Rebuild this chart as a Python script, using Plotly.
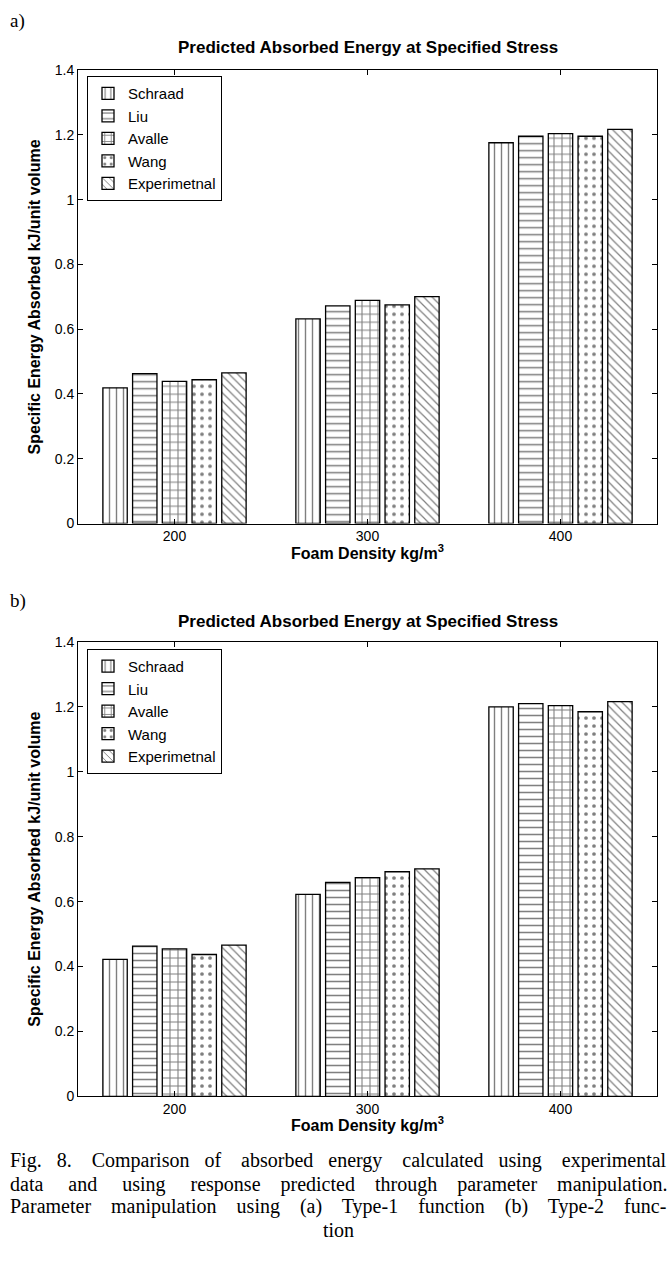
import plotly.graph_objects as go

densities = ["200", "300", "400"]
series_names = ["Schraad", "Liu", "Avalle", "Wang", "Experimetnal"]

# panel a) Type-1 function
a_schraad = [0.419, 0.632, 1.176]
a_liu = [0.463, 0.672, 1.196]
a_avalle = [0.439, 0.689, 1.204]
a_wang = [0.444, 0.675, 1.196]
a_exp = [0.465, 0.701, 1.217]

# panel b) Type-2 function
b_schraad = [0.422, 0.622, 1.200]
b_liu = [0.463, 0.659, 1.210]
b_avalle = [0.454, 0.674, 1.204]
b_wang = [0.437, 0.692, 1.185]
b_exp = [0.466, 0.701, 1.216]

y_ticks = [0, 0.2, 0.4, 0.6, 0.8, 1, 1.2, 1.4]
y_tick_text = ["0", "0.2", "0.4", "0.6", "0.8", "1", "1.2", "1.4"]

title_text = "Predicted Absorbed Energy at Specified Stress"
xlabel = "Foam Density kg/m<sup>3</sup>"
ylabel = "Specific Energy Absorbed kJ/unit volume"
caption_lines = [
    "Fig.   8.    Comparison   of    absorbed   energy    calculated   using    experimental",
    "data     and     using     response    predicted    through    parameter    manipulation.",
    "Parameter    manipulation    using    (a)    Type-1    function    (b)    Type-2    func-",
    "tion",
]

patterns = ["|", "-", "+", ".", "\\"]
pat_sizes = [7, 7, 8, 8, 6]
pat_solid = [0.2, 0.22, 0.25, 0.17, 0.2]

W, H = 672, 1286
SANS = "Liberation Sans, Arial, Helvetica"
SERIF = "Liberation Serif, Times New Roman, serif"
BOLD = dict(family=SANS, size=16, color="black", weight="bold")

fig = go.Figure()

panels = [
    ([a_schraad, a_liu, a_avalle, a_wang, a_exp], "x", "y", "legend"),
    ([b_schraad, b_liu, b_avalle, b_wang, b_exp], "x2", "y2", "legend2"),
]

for vals_list, xa, ya, lg in panels:
    for i, (name, vals) in enumerate(zip(series_names, vals_list)):
        fig.add_trace(go.Bar(
            x=densities, y=vals, name=name, xaxis=xa, yaxis=ya, legend=lg,
            marker=dict(
                color="white",
                line=dict(color="black", width=1.3),
                pattern=dict(shape=patterns[i], fgcolor="black", bgcolor="white",
                             size=pat_sizes[i], solidity=pat_solid[i]),
            ),
        ))

x0, x1 = 78 / W, 657 / W
dom_a = [1 - 522 / H, 1 - 63 / H]
dom_b = [1 - 1102 / H, 1 - 642 / H]

axis_common = dict(
    showline=True, linecolor="black", linewidth=1, mirror="ticks",
    ticks="inside", ticklen=5, tickcolor="black", showgrid=False, zeroline=False,
    tickfont=dict(family=SANS, size=14, color="black"),
)

fig.update_layout(
    width=W, height=H,
    margin=dict(l=0, r=0, t=0, b=0),
    paper_bgcolor="white", plot_bgcolor="white",
    barmode="group", bargap=0.23, bargroupgap=0.18,
    xaxis=dict(domain=[x0, x1], anchor="y", ticklabelstandoff=0, **axis_common),
    yaxis=dict(domain=dom_a, anchor="x", range=[0, 1.4], tickvals=y_ticks, ticktext=y_tick_text,
               **axis_common,
               title=dict(text=ylabel, font=BOLD, standoff=10)),
    xaxis2=dict(domain=[x0, x1], anchor="y2", ticklabelstandoff=0, **axis_common),
    yaxis2=dict(domain=dom_b, anchor="x2", range=[0, 1.4], tickvals=y_ticks, ticktext=y_tick_text,
                **axis_common,
                title=dict(text=ylabel, font=BOLD, standoff=10)),
    legend=dict(x=87 / W, y=1 - 69 / H, xanchor="left", yanchor="top",
                bgcolor="white", bordercolor="black", borderwidth=1,
                font=dict(family=SANS, size=15, color="black"), tracegroupgap=0),
    legend2=dict(x=87 / W, y=1 - 649 / H, xanchor="left", yanchor="top",
                 bgcolor="white", bordercolor="black", borderwidth=1,
                 font=dict(family=SANS, size=15, color="black"), tracegroupgap=0),
    showlegend=True,
)

xc = (x0 + x1) / 2
annotations = [
    dict(text=title_text, x=xc, y=1 - 40 / H, xref="paper", yref="paper",
         showarrow=False, font=dict(family=SANS, size=17, color="black", weight="bold"),
         xanchor="center", yanchor="middle"),
    dict(text=title_text, x=xc, y=1 - 621 / H, xref="paper", yref="paper",
         showarrow=False, font=dict(family=SANS, size=17, color="black", weight="bold"),
         xanchor="center", yanchor="middle"),
    dict(text=xlabel, x=xc, y=1 - 551 / H, xref="paper", yref="paper",
         showarrow=False, font=BOLD, xanchor="center", yanchor="middle"),
    dict(text=xlabel, x=xc, y=1 - 1130 / H, xref="paper", yref="paper",
         showarrow=False, font=BOLD, xanchor="center", yanchor="middle"),
    dict(text="a)", x=8 / W, y=1.0, xref="paper", yref="paper", showarrow=False,
         font=dict(family=SERIF, size=19, color="black"), xanchor="left", yanchor="top"),
    dict(text="b)", x=8 / W, y=1 - 600 / H, xref="paper", yref="paper", showarrow=False,
         font=dict(family=SERIF, size=19, color="black"), xanchor="left", yanchor="middle"),
]
cap_y = [1167, 1191, 1214, 1237]
for k, (line, yy) in enumerate(zip(caption_lines, cap_y)):
    last = k == len(caption_lines) - 1
    annotations.append(dict(
        text=line, x=(338 / W) if last else 8 / W, y=1 - yy / H, xref="paper", yref="paper",
        showarrow=False, font=dict(family=SERIF, size=20, color="black"),
        xanchor="center" if last else "left", yanchor="middle"))
fig.update_layout(annotations=annotations)

fig.write_html("out.html")
